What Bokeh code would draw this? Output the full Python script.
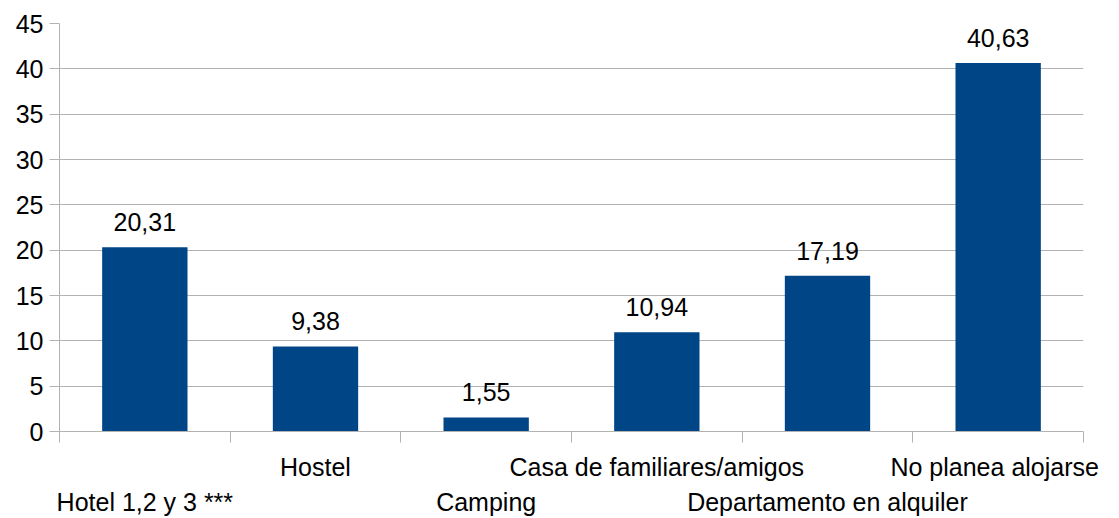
from bokeh.plotting import figure
from bokeh.models import Range1d, FixedTicker, ColumnDataSource
from bokeh.embed import file_html
from bokeh.resources import INLINE
from bokeh.core.properties import value

categories = ["Hotel 1,2 y 3 ***", "Hostel", "Camping", "Casa de familiares/amigos",
              "Departamento en alquiler", "No planea  alojarse"]
values = [20.31, 9.38, 1.55, 10.94, 17.19, 40.63]
y_ticks = [0, 5, 10, 15, 20, 25, 30, 35, 40, 45]

FONT = "Liberation Sans"
GRID = "#b3b3b3"
BAR = "#004586"

xs = [i + 0.5 for i in range(len(categories))]
labels = [f"{v:.2f}".replace(".", ",") for v in values]
src = ColumnDataSource(dict(x=xs, top=values, label=labels))

p = figure(width=1119, height=518, output_backend="svg", toolbar_location=None,
           x_range=Range1d(0, len(categories)), y_range=Range1d(0, 45),
           min_border_left=59, min_border_right=36,
           min_border_top=23, min_border_bottom=83)
p.outline_line_color = None
p.xgrid.visible = False
p.ygrid.grid_line_color = GRID
p.ygrid.ticker = FixedTicker(ticks=y_ticks)

p.vbar(x="x", top="top", width=0.5, bottom=0, source=src, color=BAR, line_color=None)
p.text(x="x", y="top", text="label", source=src, text_align="center",
       text_baseline="alphabetic", y_offset=-25, text_font=value(FONT),
       text_font_size="25px", text_color="black")

ya = p.yaxis[0]
ya.ticker = FixedTicker(ticks=y_ticks, minor_ticks=[])
ya.axis_line_color = GRID
ya.major_tick_line_color = GRID
ya.major_tick_out = 10
ya.major_tick_in = 0
ya.minor_tick_line_color = None
ya.major_label_standoff = 6
ya.major_label_text_font = FONT
ya.major_label_text_font_size = "25px"
ya.major_label_text_color = "black"

# staggered category labels: even-indexed ones on the second line
cat_labels = {xs[i]: (("\n" + c) if i % 2 == 0 else c) for i, c in enumerate(categories)}

xa = p.xaxis[0]
xa.ticker = FixedTicker(ticks=xs, minor_ticks=list(range(len(categories) + 1)))
xa.major_label_overrides = cat_labels
xa.axis_line_color = GRID
xa.major_tick_out = 0
xa.major_tick_in = 0
xa.major_tick_line_color = None
xa.minor_tick_line_color = GRID
xa.minor_tick_out = 11
xa.minor_tick_in = 0
xa.major_label_standoff = 10
xa.major_label_text_font = FONT
xa.major_label_text_font_size = "25px"
xa.major_label_text_line_height = 1.25
xa.major_label_text_color = "black"

open("out.html", "w").write(file_html(p, INLINE))
